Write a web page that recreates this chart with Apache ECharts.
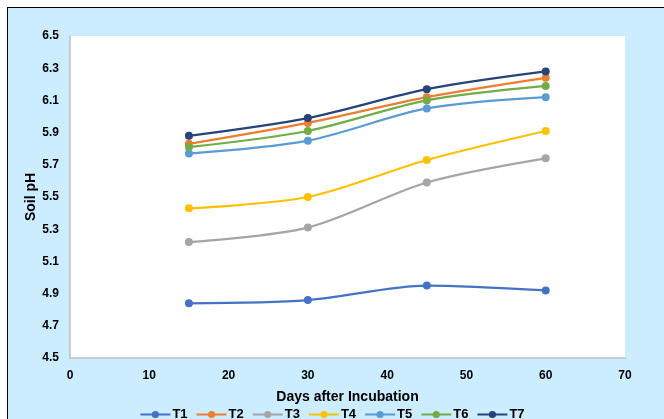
<!DOCTYPE html>
<html>
<head>
<meta charset="utf-8">
<script src="https://cdn.jsdelivr.net/npm/echarts@6/dist/echarts.min.js"></script>
<style>
html,body{margin:0;padding:0;background:#fff;}
#frame{position:absolute;left:7px;top:7px;width:720px;height:460px;background:#CCECFF;border:1px solid #000;box-sizing:border-box;}
#chart{position:absolute;left:0;top:0;width:664px;height:419px;}
</style>
</head>
<body>
<div id="frame"></div>
<div id="chart"></div>
<script>
const days = [15, 30, 45, 60];
const seriesNames = ['T1','T2','T3','T4','T5','T6','T7'];
const T1 = [4.84, 4.86, 4.95, 4.92];
const T2 = [5.83, 5.96, 6.12, 6.24];
const T3 = [5.22, 5.31, 5.59, 5.74];
const T4 = [5.43, 5.50, 5.73, 5.91];
const T5 = [5.77, 5.85, 6.05, 6.12];
const T6 = [5.81, 5.91, 6.10, 6.19];
const T7 = [5.88, 5.99, 6.17, 6.28];
const colors = ['#4472C4','#ED7D31','#A5A5A5','#FFC000','#5B9BD5','#70AD47','#264478'];
const yTicks = [4.5, 4.7, 4.9, 5.1, 5.3, 5.5, 5.7, 5.9, 6.1, 6.3, 6.5];

const values = [T1,T2,T3,T4,T5,T6,T7];
const chart = echarts.init(document.getElementById('chart'), null, {renderer:'canvas'});
const font = 'Liberation Sans, Arial, sans-serif';
chart.setOption({
  backgroundColor: 'transparent',
  animation: false,
  textStyle: {fontFamily: font},
  grid: {left: 70, right: 39, top: 36, bottom: 61, show: true, backgroundColor: '#fff', borderWidth: 0},
  xAxis: {
    type: 'value', min: 0, max: 70, interval: 10,
    name: 'Days after Incubation', nameLocation: 'middle', nameGap: 32,
    nameTextStyle: {fontSize: 14, fontWeight: 'bold', color: '#000', fontFamily: font},
    axisLine: {show: true, lineStyle: {color: '#BFBFBF', width: 1.5}},
    axisTick: {show: false},
    splitLine: {show: false},
    axisLabel: {fontSize: 12, fontWeight: 'bold', color: '#000', margin: 12, fontFamily: font}
  },
  yAxis: {
    type: 'value', min: 4.5, max: 6.5,
    name: 'Soil pH', nameLocation: 'middle', nameGap: 32, nameRotate: 90,
    nameMoveOverlap: false,
    nameTextStyle: {fontSize: 14, fontWeight: 'bold', color: '#000', fontFamily: font},
    axisLine: {show: true, lineStyle: {color: '#BFBFBF', width: 1.5}},
    axisTick: {show: false},
    splitLine: {show: false},
    axisLabel: {
      fontSize: 12, fontWeight: 'bold', color: '#000', margin: 11, fontFamily: font,
      customValues: yTicks,
      formatter: v => v.toFixed(1)
    }
  },
  legend: {
    top: 403, left: 'center', itemWidth: 30, itemHeight: 9, itemGap: 8,
    textStyle: {fontSize: 13, fontWeight: 'bold', color: '#000', fontFamily: font, padding: [0,0,0,-3]},
    data: seriesNames
  },
  series: seriesNames.map((n, i) => ({
    name: n, type: 'line', smooth: 0.3,
    data: days.map((d, j) => [d, values[i][j]]),
    symbol: 'circle', symbolSize: 8,
    lineStyle: {color: colors[i], width: 2.25},
    itemStyle: {color: colors[i]}
  }))
});
</script>
</body>
</html>
